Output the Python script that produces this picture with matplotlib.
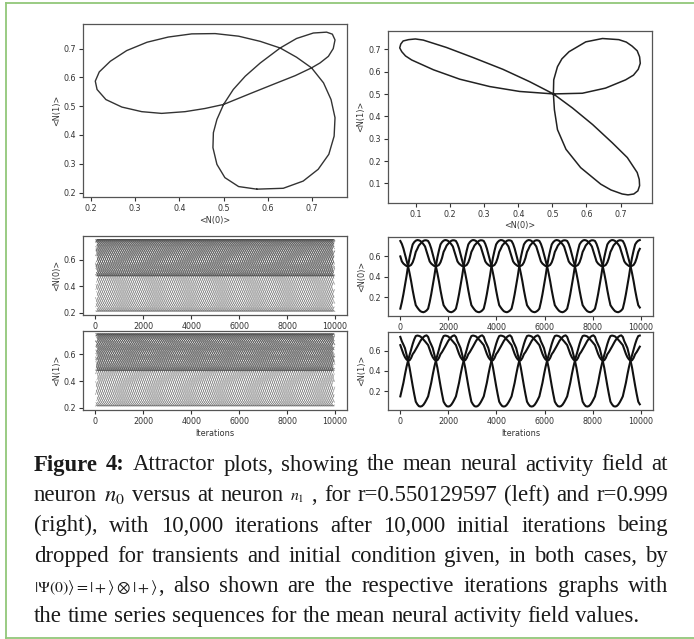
import numpy as np
import matplotlib
matplotlib.use("Agg")
import matplotlib.pyplot as plt
from matplotlib.lines import Line2D

# attractor loop for r=0.550129597, in visiting order
left_x = [0.575, 0.534, 0.503, 0.485, 0.476, 0.477, 0.485, 0.500, 0.522, 0.549,
          0.583, 0.628, 0.665, 0.703, 0.733, 0.746, 0.752, 0.748, 0.737, 0.718,
          0.699, 0.662, 0.616, 0.564, 0.500, 0.458, 0.413, 0.360, 0.315, 0.270,
          0.234, 0.214, 0.210, 0.219, 0.244, 0.281, 0.327, 0.375, 0.428, 0.481,
          0.534, 0.583, 0.628, 0.665, 0.699, 0.726, 0.743, 0.752, 0.750, 0.738,
          0.714, 0.680, 0.635]
left_y = [0.212, 0.221, 0.252, 0.298, 0.356, 0.408, 0.454, 0.506, 0.558, 0.604,
          0.650, 0.702, 0.735, 0.754, 0.757, 0.750, 0.730, 0.700, 0.673, 0.650,
          0.633, 0.606, 0.578, 0.546, 0.506, 0.492, 0.481, 0.475, 0.481, 0.497,
          0.523, 0.558, 0.587, 0.619, 0.656, 0.693, 0.722, 0.740, 0.751, 0.752,
          0.743, 0.725, 0.702, 0.670, 0.633, 0.581, 0.523, 0.460, 0.396, 0.333,
          0.281, 0.240, 0.215]

# attractor loop for r=0.999, three petals through (0.5, 0.5)
right_x = [0.503, 0.433, 0.355, 0.267, 0.189, 0.121, 0.098, 0.078, 0.062, 0.055,
           0.052, 0.058, 0.069, 0.087, 0.151, 0.228, 0.316, 0.404, 0.503, 0.588,
           0.656, 0.715, 0.738, 0.752, 0.758, 0.756, 0.749, 0.734, 0.717, 0.695,
           0.647, 0.598, 0.549, 0.528, 0.515, 0.504, 0.503, 0.506, 0.515, 0.540,
           0.583, 0.642, 0.672, 0.705, 0.722, 0.739, 0.751, 0.756, 0.755, 0.749,
           0.720, 0.676, 0.618, 0.559]
right_y = [0.501, 0.556, 0.611, 0.664, 0.709, 0.742, 0.747, 0.744, 0.738, 0.724,
           0.707, 0.690, 0.671, 0.653, 0.609, 0.567, 0.534, 0.512, 0.501, 0.504,
           0.527, 0.564, 0.585, 0.611, 0.638, 0.667, 0.694, 0.715, 0.733, 0.744,
           0.749, 0.734, 0.690, 0.658, 0.623, 0.564, 0.501, 0.430, 0.341, 0.253,
           0.171, 0.097, 0.071, 0.053, 0.049, 0.053, 0.067, 0.090, 0.118, 0.149,
           0.216, 0.282, 0.364, 0.438]

n_iter = 10000
# r=0.999: three strands, one petal every ~1157 iterations
right_petal = 1157
right_start = 13.0
# r=0.55: many slowly drifting strands
left_step = 110.0
left_start = 0.0
left_strands = 72

iter_ticks = [0, 2000, 4000, 6000, 8000, 10000]

caption = [
    [[("Figure", "bold", 1.0)], [("4:", "bold", 1.0)], "Attractor", "plots,", "showing",
     "the", "mean", "neural", "activity", "field", "at"],
    ["neuron", [(r"$n_0$", "normal", 1.0)], "versus", "at", "neuron",
     [(r"$n_1$", "normal", 0.7)], ",", "for", "r=0.550129597", "(left)", "and", "r=0.999"],
    "(right), with 10,000 iterations after 10,000 initial iterations being".split(),
    "dropped for transients and initial condition given, in both cases, by".split(),
    [[(r"$|\Psi(0)\rangle=|+\rangle\otimes|+\rangle$", "normal", 0.7), (",", "normal", 1.0)]]
    + "also shown are the respective iterations graphs with".split(),
    "the time series sequences for the mean neural activity field values.".split(),
]

W, H = 694, 639
plt.rcParams["mathtext.fontset"] = "stix"
fig = plt.figure(figsize=(W / 100, H / 100), dpi=100)


def box(l, t, r, b):
    return [l / W, 1 - b / H, (r - l) / W, (b - t) / H]


def style(ax, fs=5.8):
    for s in ax.spines.values():
        s.set_color("#555555")
        s.set_linewidth(0.9)
    ax.tick_params(labelsize=fs, colors="#333333", length=3, width=0.8, pad=2)


def strands(vals, step, start, count):
    vals = np.asarray(vals)
    L = len(vals)
    out = []
    for j in range(count):
        s = start + j * L / count
        k = np.arange(int(np.ceil(s)), int(np.floor(s + n_iter / step)) + 1)
        out.append(((k - s) * step, vals[k % L]))
    return out


lab = dict(fontsize=5.9, color="#333333", labelpad=2)

# attractor panels
ax1 = fig.add_axes(box(83.3, 24.3, 347, 197))
ax1.plot(left_x + left_x[:1], left_y + left_y[:1], color="#333333", lw=1.0)
ax1.set_xticks([0.2, 0.3, 0.4, 0.5, 0.6, 0.7])
ax1.set_yticks([0.2, 0.3, 0.4, 0.5, 0.6, 0.7])
ax1.set_xlabel("<N(0)>", **lab)
ax1.set_ylabel("<N(1)>", **lab)
style(ax1)

ax2 = fig.add_axes(box(387.7, 30.7, 652.3, 202.7))
ax2.plot(right_x + right_x[:1], right_y + right_y[:1], color="#222222", lw=1.1)
ax2.set_xticks([0.1, 0.2, 0.3, 0.4, 0.5, 0.6, 0.7])
ax2.set_yticks([0.1, 0.2, 0.3, 0.4, 0.5, 0.6, 0.7])
ax2.set_xlabel("<N(0)>", **lab)
ax2.set_ylabel("<N(1)>", **lab)
style(ax2)

# iteration panels
right_step = 3 * right_petal / len(right_x)
ts_boxes = [
    (box(83.3, 236, 347, 315), left_x, "l", "<N(0)>", False),
    (box(83.3, 330.7, 347, 410), left_y, "l", "<N(1)>", True),
    (box(388.3, 237.3, 652.7, 316), right_x, "r", "<N(0)>", False),
    (box(388.3, 331.7, 652.7, 410), right_y, "r", "<N(1)>", True),
]
for rect, vals, side, ylab, bottom in ts_boxes:
    ax = fig.add_axes(rect)
    if side == "l":
        for t, v in strands(vals, left_step, left_start, left_strands):
            ax.plot(t, v, color="#3a3a3a", lw=0.4, alpha=0.6)
        ax.set_ylim(0.183, 0.777)
    else:
        for t, v in strands(vals, right_step, right_start, 3):
            ax.plot(t, v, color="#111111", lw=1.5)
        ax.set_ylim(0.015, 0.785)
    ax.set_xlim(-500, 10500)
    ax.set_xticks(iter_ticks)
    ax.set_yticks([0.2, 0.4, 0.6])
    ax.set_ylabel(ylab, **lab)
    if bottom:
        ax.set_xlabel("Iterations", **lab)
    style(ax)

# green frame (open on the right)
green = "#92c77a"
for xs, ys in [([5.5, 5.5], [3, 637.5]), ([5.5, W], [3, 3]), ([5.5, W], [637.5, 637.5])]:
    fig.add_artist(Line2D([x / W for x in xs], [1 - y / H for y in ys],
                          transform=fig.transFigure, color=green, lw=1.3))

# justified caption
cap_family = ["Liberation Serif", "DejaVu Serif"]
cap_size = 16.4
x_left, x_right = 34, 668
baselines = [470.5, 501, 531.5, 562, 592, 622]

fig.canvas.draw()
rend = fig.canvas.get_renderer()


def make_group(tok, y):
    if isinstance(tok, str):
        tok = [(tok, "normal", 1.0)]
    arts = []
    for s, wt, sc in tok:
        arts.append(fig.text(0, 1 - y / H, s, fontsize=cap_size * sc, fontweight=wt,
                             family=cap_family, va="baseline", ha="left",
                             color="#1a1a1a"))
    return arts


def width(art):
    return art.get_window_extent(renderer=rend).width


for i, (line, y) in enumerate(zip(caption, baselines)):
    groups = [make_group(tok, y) for tok in line]
    widths = [sum(width(a) for a in g) for g in groups]
    if i == len(caption) - 1:
        sp = fig.text(0, 0, "a b", fontsize=cap_size, family=cap_family)
        ab = fig.text(0, 0, "ab", fontsize=cap_size, family=cap_family)
        gap = width(sp) - width(ab)
        sp.remove()
        ab.remove()
    else:
        gap = (x_right - x_left - sum(widths)) / (len(groups) - 1)
    x = x_left
    for g, w in zip(groups, widths):
        xx = x
        for a in g:
            a.set_x(xx / W)
            xx += width(a)
        x += w + gap

fig.savefig("out.png", dpi=100)
